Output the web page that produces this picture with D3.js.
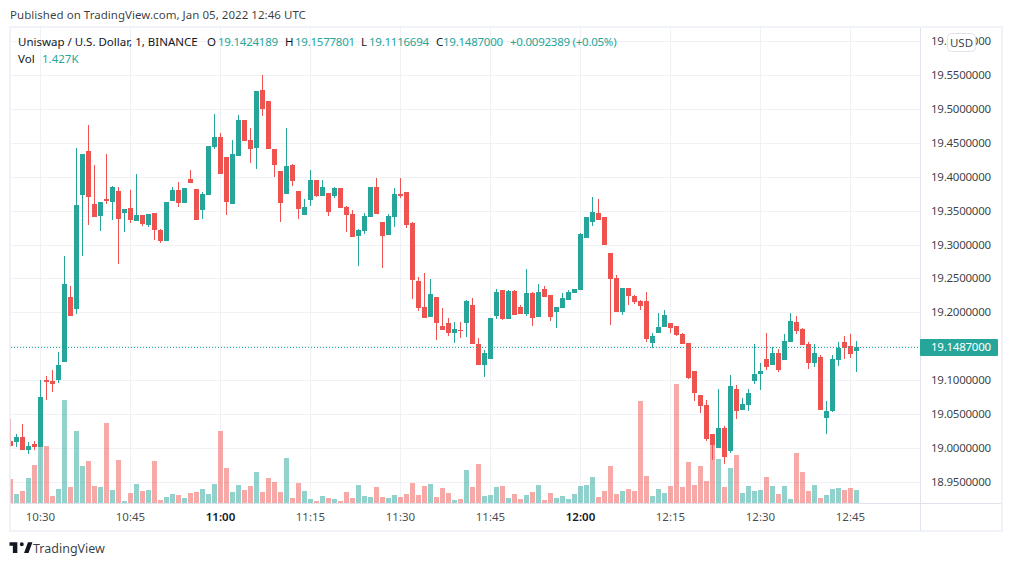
<!DOCTYPE html>
<html>
<head>
<meta charset="utf-8">
<style>
  html, body { margin: 0; padding: 0; background: #fff; }
  svg { display: block; }
  text { font-family: "Noto Sans", sans-serif; }
</style>
<script src="https://cdn.jsdelivr.net/npm/d3@7"></script>
</head>
<body>
<div id="chart"></div>
<script>
// one minute candles, 10:25 to 12:46
const firstMinute = new Date(Date.UTC(2022, 0, 5, 10, 25));

const opens = [
  19.010,19.009,19.016,18.997,19.006,19.001,19.100,19.099,19.100,19.127,
  19.223,19.205,19.373,19.438,19.360,19.342,19.367,19.363,19.379,19.347,
  19.354,19.335,19.344,19.329,19.347,19.322,19.305,19.364,19.381,19.361,
  19.397,19.382,19.351,19.373,19.444,19.459,19.429,19.360,19.431,19.484,
  19.455,19.443,19.528,19.512,19.441,19.409,19.375,19.418,19.379,19.344,
  19.366,19.395,19.372,19.376,19.372,19.384,19.356,19.345,19.313,19.320,
  19.341,19.385,19.333,19.314,19.341,19.375,19.378,19.332,19.246,19.208,
  19.193,19.223,19.180,19.184,19.170,19.174,19.184,19.211,19.153,19.122,
  19.131,19.195,19.233,19.190,19.232,19.208,19.198,19.229,19.193,19.234,
  19.226,19.200,19.206,19.218,19.229,19.233,19.310,19.333,19.347,19.341,
  19.288,19.251,19.200,19.236,19.224,19.217,19.217,19.155,19.170,19.178,
  19.184,19.180,19.168,19.155,19.113,19.078,19.063,19.020,19.000,19.029,
  18.995,19.087,19.056,19.063,19.099,19.109,19.131,19.122,19.140,19.130,
  19.156,19.186,19.175,19.153,19.125,19.134,19.044,19.054,19.130,19.156,
  19.150,19.1424189
];
const highs = [
  19.043,19.020,19.035,19.009,19.010,19.100,19.106,19.115,19.141,19.283,
  19.239,19.443,19.434,19.477,19.418,19.363,19.434,19.387,19.385,19.353,
  19.381,19.404,19.344,19.345,19.347,19.323,19.363,19.385,19.392,19.384,
  19.410,19.382,19.378,19.446,19.493,19.465,19.429,19.455,19.491,19.484,
  19.472,19.527,19.550,19.512,19.441,19.409,19.472,19.419,19.379,19.367,
  19.410,19.395,19.395,19.376,19.385,19.384,19.357,19.351,19.323,19.347,
  19.385,19.398,19.333,19.345,19.384,19.398,19.378,19.333,19.252,19.258,
  19.249,19.223,19.206,19.192,19.186,19.186,19.218,19.221,19.162,19.144,
  19.192,19.234,19.233,19.233,19.233,19.211,19.264,19.230,19.242,19.239,
  19.226,19.208,19.229,19.233,19.234,19.317,19.341,19.370,19.367,19.341,
  19.288,19.255,19.236,19.236,19.226,19.218,19.230,19.170,19.199,19.203,
  19.184,19.180,19.170,19.155,19.113,19.078,19.071,19.020,19.087,19.032,
  19.107,19.093,19.074,19.087,19.153,19.125,19.170,19.149,19.146,19.168,
  19.199,19.195,19.177,19.156,19.153,19.137,19.069,19.137,19.156,19.165,
  19.168,19.1577801
];
const lows = [
  19.001,19.001,18.997,18.991,18.997,19.001,19.071,19.082,19.096,19.127,
  19.195,19.198,19.283,19.329,19.341,19.320,19.360,19.336,19.271,19.319,
  19.332,19.335,19.327,19.326,19.307,19.302,19.305,19.364,19.356,19.361,
  19.391,19.336,19.338,19.373,19.441,19.404,19.344,19.360,19.431,19.453,
  19.421,19.412,19.490,19.441,19.400,19.333,19.375,19.387,19.338,19.344,
  19.357,19.370,19.372,19.342,19.369,19.354,19.319,19.311,19.268,19.316,
  19.341,19.345,19.265,19.314,19.326,19.369,19.325,19.220,19.202,19.192,
  19.193,19.159,19.174,19.165,19.155,19.162,19.164,19.153,19.122,19.104,
  19.131,19.190,19.189,19.190,19.196,19.198,19.195,19.180,19.193,19.223,
  19.187,19.177,19.206,19.218,19.229,19.233,19.310,19.327,19.336,19.299,
  19.181,19.200,19.196,19.211,19.212,19.203,19.156,19.147,19.170,19.178,
  19.170,19.165,19.153,19.102,19.069,19.051,19.010,18.982,19.000,18.976,
  18.992,19.043,19.056,19.054,19.094,19.085,19.115,19.122,19.112,19.130,
  19.156,19.168,19.152,19.116,19.119,19.056,19.020,19.053,19.121,19.131,
  19.133,19.1116694
];
const closes = [
  19.003,19.016,18.997,19.003,19.001,19.075,19.097,19.094,19.122,19.242,
  19.195,19.359,19.434,19.370,19.341,19.363,19.364,19.385,19.338,19.353,
  19.336,19.344,19.330,19.345,19.322,19.305,19.363,19.381,19.361,19.384,
  19.391,19.336,19.375,19.446,19.459,19.404,19.363,19.434,19.484,19.453,
  19.441,19.527,19.500,19.441,19.418,19.361,19.416,19.394,19.353,19.356,
  19.395,19.372,19.385,19.348,19.384,19.354,19.344,19.311,19.322,19.342,
  19.385,19.345,19.313,19.342,19.375,19.372,19.329,19.248,19.206,19.192,
  19.227,19.184,19.174,19.170,19.175,19.172,19.217,19.153,19.122,19.140,
  19.192,19.230,19.190,19.232,19.196,19.198,19.229,19.192,19.230,19.223,
  19.193,19.208,19.221,19.230,19.234,19.316,19.341,19.348,19.336,19.299,
  19.249,19.200,19.236,19.224,19.215,19.209,19.161,19.165,19.178,19.196,
  19.177,19.167,19.153,19.103,19.081,19.062,19.013,19.004,19.029,18.986,
  19.091,19.054,19.065,19.081,19.109,19.113,19.119,19.140,19.115,19.158,
  19.187,19.172,19.152,19.125,19.140,19.056,19.054,19.131,19.147,19.147,
  19.139,19.1487
];
// volume in thousands
const volumes = [
  2.64,0.99,1.32,2.75,4.18,6.16,6.27,0.77,1.54,11.33,
  1.76,7.92,4.07,4.62,1.87,1.76,8.80,1.43,4.73,0.22,
  1.10,2.09,1.32,1.43,4.62,0.33,0.66,0.99,0.88,0.55,
  1.10,1.21,1.54,0.99,2.09,7.92,3.85,1.21,1.98,1.43,
  1.87,3.41,1.21,2.75,2.31,1.21,4.95,0.55,2.20,1.32,
  0.44,0.22,0.77,0.55,0.44,0.22,1.21,0.55,1.98,0.77,
  0.66,1.76,0.66,0.55,0.88,0.66,0.99,2.20,0.88,1.87,
  2.09,0.66,1.65,1.10,0.33,0.44,3.63,1.76,4.29,0.77,
  0.88,1.76,1.87,0.55,0.99,0.44,0.88,1.21,1.98,0.33,
  1.10,0.55,0.77,0.44,0.99,1.87,1.98,2.86,0.66,1.32,
  4.07,0.99,1.32,1.54,1.32,11.22,2.97,0.77,1.54,1.10,
  1.87,13.09,1.76,4.51,1.98,4.07,2.42,6.38,4.84,1.76,
  3.85,5.28,1.10,1.87,1.32,1.43,2.86,1.87,0.99,1.87,
  0.44,5.50,3.41,1.32,1.98,0.55,0.88,1.54,1.65,1.43,
  1.65,1.427
];

const priceTicks = [18.95,19.0,19.05,19.1,19.15,19.2,19.25,19.3,19.35,19.4,19.45,19.5,19.55,19.6];
const timeLabels = ["10:30","10:45","11:00","11:15","11:30","11:45","12:00","12:15","12:30","12:45"];
const strongLabels = ["11:00","12:00"];
const lastPrice = 19.1487;

const green = "#26a69a", red = "#ef5350", gridColor = "#f0f1f5", axisColor = "#e0e3eb";
const textColor = "#131722";
const width = 1012, height = 566;
const paneLeft = 11, paneRight = 920, paneTop = 28, paneBottom = 503;

const candles = opens.map((o, i) => ({
  t: d3.utcMinute.offset(firstMinute, i),
  o, h: highs[i], l: lows[i], c: closes[i], v: volumes[i]
}));
const parseLabel = s => {
  const [hh, mm] = s.split(":").map(Number);
  return new Date(Date.UTC(2022, 0, 5, hh, mm));
};

const x = d3.scaleUtc().domain([firstMinute, candles[candles.length - 1].t]).range([10.5, 856.5]);
const y = d3.scaleLinear().domain([18.95, 19.55]).range([481.6, 75.3]);
const yVol = d3.scaleLinear().domain([0, 14]).range([503, 375.7]);
const py = v => Math.round(y(v));
const bodyWidth = 5;

const svg = d3.select("#chart").append("svg").attr("width", width).attr("height", height);

svg.append("defs").append("clipPath").attr("id", "pane")
  .append("rect").attr("x", 10).attr("y", paneTop).attr("width", paneRight - 10).attr("height", paneBottom - paneTop);

// grid
svg.append("g").selectAll("line").data(priceTicks).join("line")
  .attr("x1", paneLeft).attr("x2", paneRight)
  .attr("y1", d => py(d) + 0.5).attr("y2", d => py(d) + 0.5)
  .attr("stroke", gridColor);
svg.append("g").selectAll("line").data(timeLabels).join("line")
  .attr("x1", d => x(parseLabel(d))).attr("x2", d => x(parseLabel(d)))
  .attr("y1", paneTop).attr("y2", paneBottom)
  .attr("stroke", gridColor);

const pane = svg.append("g").attr("clip-path", "url(#pane)");

// volume below the candles
pane.append("g").selectAll("rect").data(candles).join("rect")
  .attr("x", d => x(d.t) - bodyWidth / 2).attr("width", bodyWidth)
  .attr("y", d => Math.round(yVol(d.v)))
  .attr("height", d => 503 - Math.round(yVol(d.v)))
  .attr("fill", d => d.c >= d.o ? green : red)
  .attr("fill-opacity", 0.5);

pane.append("g").selectAll("line").data(candles).join("line")
  .attr("x1", d => x(d.t)).attr("x2", d => x(d.t))
  .attr("y1", d => py(d.h)).attr("y2", d => py(d.l))
  .attr("stroke", d => d.c >= d.o ? green : red);
pane.append("g").selectAll("rect").data(candles).join("rect")
  .attr("x", d => x(d.t) - bodyWidth / 2).attr("width", bodyWidth)
  .attr("y", d => py(Math.max(d.o, d.c)))
  .attr("height", d => Math.max(1, py(Math.min(d.o, d.c)) - py(Math.max(d.o, d.c))))
  .attr("fill", d => d.c >= d.o ? green : red);

// last price line
svg.append("line")
  .attr("x1", paneLeft).attr("x2", paneRight)
  .attr("y1", py(lastPrice) + 0.5).attr("y2", py(lastPrice) + 0.5)
  .attr("stroke", green).attr("stroke-dasharray", "1 2");

// frame and axis separators
svg.append("rect").attr("x", 10).attr("y", 27).attr("width", 992).attr("height", 504)
  .attr("fill", "none").attr("stroke", "#e9edf7").attr("stroke-opacity", 0.7).attr("stroke-width", 2);
svg.append("line").attr("x1", 920.5).attr("x2", 920.5).attr("y1", paneTop).attr("y2", 530).attr("stroke", axisColor);
svg.append("line").attr("x1", paneLeft).attr("x2", 1001).attr("y1", 503.5).attr("y2", 503.5).attr("stroke", axisColor);

// price axis
svg.append("g").selectAll("text").data(priceTicks).join("text")
  .attr("x", 931).attr("y", d => py(d) + 3.8)
  .attr("font-size", 11.5).attr("letter-spacing", -0.25).attr("fill", textColor).attr("fill-opacity", 0.85)
  .text(d => d.toFixed(7));

svg.append("rect").attr("x", 920).attr("y", 339).attr("width", 78).attr("height", 17).attr("rx", 1).attr("fill", green);
svg.append("text").attr("x", 931).attr("y", py(lastPrice) + 4)
  .attr("font-size", 11.5).attr("letter-spacing", -0.25).attr("fill", "#fff").text(lastPrice.toFixed(7));

svg.append("rect").attr("x", 947.5).attr("y", 33.5).attr("width", 28).attr("height", 18).attr("rx", 4)
  .attr("fill", "#fff").attr("stroke", axisColor);
svg.append("text").attr("x", 961.5).attr("y", 46.5).attr("text-anchor", "middle")
  .attr("font-size", 11.5).attr("fill", textColor).attr("fill-opacity", 0.85).text("USD");

// time axis
svg.append("g").selectAll("text").data(timeLabels).join("text")
  .attr("x", d => x(parseLabel(d))).attr("y", 521).attr("text-anchor", "middle")
  .attr("font-size", 11.5).attr("fill", textColor)
  .attr("fill-opacity", d => strongLabels.includes(d) ? 1 : 0.8)
  .attr("font-weight", d => strongLabels.includes(d) ? 600 : 400)
  .text(d => d);

// header and legend
svg.append("text").attr("x", 10).attr("y", 19).attr("font-size", 11.5).attr("letter-spacing", 0.04)
  .attr("fill", textColor).attr("fill-opacity", 0.85)
  .text("Published on TradingView.com, Jan 05, 2022 12:46 UTC");

const legend = [
  ["Uniswap / U.S. Dollar, 1, BINANCE", 18, textColor],
  ["O", 207, textColor], ["19.1424189", 218, green],
  ["H", 285, textColor], ["19.1577801", 295, green],
  ["L", 361, textColor], ["19.1116694", 369, green],
  ["C", 436, textColor], ["19.1487000", 443, green],
  ["+0.0092389 (+0.05%)", 510, green]
];
svg.append("g").selectAll("text").data(legend).join("text")
  .attr("x", d => d[1]).attr("y", 46).attr("font-size", 11.5).attr("fill", d => d[2])
  .attr("letter-spacing", d => d[2] === green ? -0.25 : 0)
  .text(d => d[0]);
svg.append("text").attr("x", 18).attr("y", 63).attr("font-size", 11.5).attr("fill", textColor).text("Vol");
svg.append("text").attr("x", 42).attr("y", 63).attr("font-size", 11.5).attr("fill", green).text("1.427K");

// logo
svg.append("path").attr("transform", "translate(9.5,539) scale(0.56)")
  .attr("d", "M14 6H0v6h6v13h8V6Zm20 19h-8l7-19h8l-7 19ZM22 6a3.5 3.5 0 1 1 0 7 3.5 3.5 0 0 1 0-7Z")
  .attr("fill", textColor);
svg.append("text").attr("x", 33).attr("y", 553).attr("font-size", 12.5).attr("fill", textColor).attr("fill-opacity", 0.85)
  .text("TradingView");
</script>
</body>
</html>
